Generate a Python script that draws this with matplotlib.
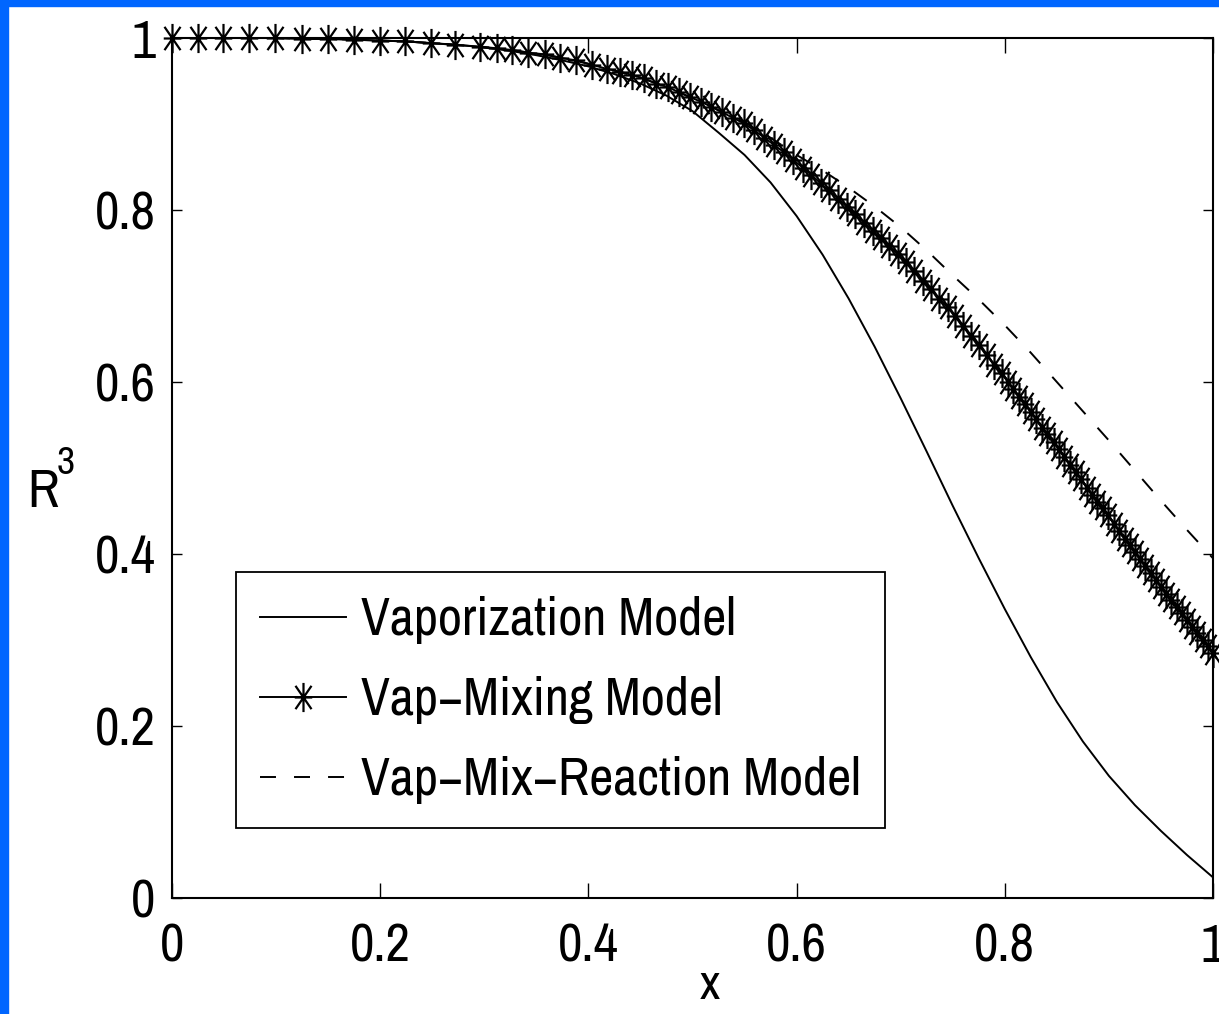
import matplotlib
matplotlib.use("Agg")
import matplotlib.pyplot as plt
from matplotlib import font_manager
from matplotlib.font_manager import FontProperties
from matplotlib.path import Path
from matplotlib.patches import Rectangle

# ---- data -------------------------------------------------------------
x_grid = [0.000, 0.025, 0.050, 0.075, 0.100, 0.125, 0.150, 0.175, 0.200,
          0.225, 0.250, 0.275, 0.300, 0.325, 0.350, 0.375, 0.400, 0.425,
          0.450, 0.475, 0.500, 0.525, 0.550, 0.575, 0.600, 0.625, 0.650,
          0.675, 0.700, 0.725, 0.750, 0.775, 0.800, 0.825, 0.850, 0.875,
          0.900, 0.925, 0.950, 0.975, 1.000]

vaporization = [1.000, 1.000, 1.000, 1.000, 1.000, 0.9995, 0.999, 0.998, 0.997,
                0.996, 0.994, 0.992, 0.989, 0.985, 0.980, 0.974, 0.967, 0.958,
                0.947, 0.933, 0.915, 0.890, 0.864, 0.832, 0.793, 0.748, 0.697,
                0.641, 0.581, 0.519, 0.456, 0.395, 0.336, 0.280, 0.228, 0.182,
                0.142, 0.108, 0.078, 0.050, 0.024]

vap_mix_reaction = [1.000, 1.000, 1.000, 1.000, 1.000, 0.999, 0.999, 0.998, 0.997,
                    0.996, 0.994, 0.992, 0.989, 0.986, 0.982, 0.977, 0.970, 0.962,
                    0.954, 0.943, 0.930, 0.916, 0.902, 0.884, 0.864, 0.846, 0.826,
                    0.804, 0.780, 0.753, 0.724, 0.696, 0.666, 0.634, 0.600, 0.566,
                    0.532, 0.497, 0.462, 0.428, 0.395]

# Vap-Mixing model: solver output points (each one carries a marker)
x_mix = [0.000, 0.025, 0.049, 0.074, 0.099, 0.125, 0.150, 0.175, 0.200, 0.224,
         0.249, 0.272,
         0.296, 0.312, 0.327, 0.342, 0.358, 0.373, 0.388, 0.403, 0.418, 0.430,
         0.442, 0.453, 0.465, 0.476, 0.487, 0.498, 0.508, 0.518, 0.528, 0.539,
         0.549, 0.559, 0.569, 0.578, 0.588, 0.597,
         0.606, 0.614, 0.623, 0.631, 0.640, 0.648, 0.656, 0.665, 0.673, 0.681,
         0.689, 0.697, 0.705, 0.713, 0.721, 0.729, 0.737, 0.745, 0.752, 0.760,
         0.768, 0.775, 0.783, 0.790, 0.797,
         0.803, 0.808, 0.814, 0.819, 0.825, 0.830, 0.836, 0.841, 0.847, 0.852,
         0.857, 0.863, 0.868, 0.873, 0.879, 0.884, 0.889, 0.894, 0.899, 0.905,
         0.910, 0.915, 0.920, 0.925, 0.930, 0.935, 0.940, 0.945, 0.950, 0.955,
         0.960, 0.965, 0.970, 0.975, 0.980, 0.985, 0.990, 0.995, 1.000]

y_mix = [1.000, 1.000, 1.000, 1.000, 1.000, 0.999, 0.999, 0.998, 0.997, 0.996,
         0.994, 0.992,
         0.990, 0.988, 0.986, 0.983, 0.981, 0.977, 0.974, 0.969, 0.964, 0.961,
         0.957, 0.953, 0.947, 0.943, 0.937, 0.931, 0.926, 0.920, 0.914, 0.907,
         0.901, 0.893, 0.884, 0.876, 0.867, 0.858,
         0.849, 0.841, 0.831, 0.823, 0.813, 0.804, 0.795, 0.785, 0.776, 0.767,
         0.758, 0.749, 0.739, 0.729, 0.718, 0.708, 0.697, 0.687, 0.677, 0.665,
         0.653, 0.643, 0.631, 0.620, 0.610,
         0.600, 0.592, 0.583, 0.575, 0.565, 0.557, 0.547, 0.539, 0.530, 0.522,
         0.513, 0.504, 0.495, 0.487, 0.477, 0.469, 0.461, 0.453, 0.445, 0.435,
         0.427, 0.418, 0.410, 0.402, 0.394, 0.386, 0.378, 0.370, 0.362, 0.354,
         0.346, 0.338, 0.331, 0.323, 0.315, 0.308, 0.300, 0.293, 0.285]

labels = ["Vaporization Model", "Vap\u2212Mixing Model", "Vap\u2212Mix\u2212Reaction Model"]
x_ticks = [0, 0.2, 0.4, 0.6, 0.8, 1]
x_ticklabels = ["0", "0.2", "0.4", "0.6", "0.8", "1"]
y_ticks = [0, 0.2, 0.4, 0.6, 0.8, 1]
y_ticklabels = ["0", "0.2", "0.4", "0.6", "0.8", "1"]


# ---- font: prefer a narrow / condensed sans face ---------------------
def pick_font():
    cands = []
    for f in font_manager.fontManager.ttflist:
        tag = (f.name + " " + f.fname).lower()
        if "mono" in tag or "serif" in tag and "sans" not in tag:
            continue
        if f.style != "normal" or f.weight not in (400, "normal", "regular", "book"):
            continue
        narrow = ("narrow" in tag or "condensed" in tag
                  or f.stretch in ("condensed", "semi-condensed", "extra-condensed"))
        if not narrow or "semi" in tag:
            continue
        rank = 0 if "narrow" in tag else (1 if "roboto" in tag else 2)
        cands.append((rank, f.fname))
    if cands:
        cands.sort()
        return FontProperties(fname=cands[0][1])
    return FontProperties(family="Liberation Sans")


base_fp = pick_font()
plt.rcParams["lines.scale_dashes"] = False

W, H = 1219, 1014
fig = plt.figure(figsize=(W / 100, H / 100), dpi=100)
fig.patch.set_facecolor("white")
renderer = fig.canvas.get_renderer()


def sized(fp, size):
    p = fp.copy()
    p.set_size(size)
    return p


def fit_size(text, width_px, cap_px, k):
    # font size (pt) balancing target width and target cap height
    w, h, d = renderer.get_text_width_height_descent(text, sized(base_fp, 100), ismath=False)
    _, hc, dc = renderer.get_text_width_height_descent("H", sized(base_fp, 100), ismath=False)
    s_w = 100 * width_px / w
    s_h = 100 * cap_px / (hc - dc)
    if s_w >= s_h:
        return s_h
    return s_w ** k * s_h ** (1 - k)


tick_size = fit_size("0.8", 52, 42, 0.45)
leg_size = fit_size("Vaporization Model", 353, 42, 0.7)
tick_fp = sized(base_fp, tick_size)
leg_fp = sized(base_fp, leg_size)

# blue frame strips along the top and left edges
blue = "#0066ff"
fig.add_artist(Rectangle((0, 1 - 6 / H), 1, 6 / H, transform=fig.transFigure,
                         color=blue, zorder=0))
fig.add_artist(Rectangle((0, 0), 8 / W, 1, transform=fig.transFigure,
                         color=blue, zorder=0))

ax = fig.add_axes([172 / W, (H - 898) / H, (1213 - 172) / W, (898 - 38) / H])

# asterisk marker: vertical + horizontal + two diagonals
ast = Path([(0, -1), (0, 1), (-0.6, 0), (0.6, 0),
            (-0.55, -0.8), (0.55, 0.8), (-0.55, 0.8), (0.55, -0.8)],
           [Path.MOVETO, Path.LINETO] * 4)

ax.plot(x_grid, vaporization, color="black", lw=1.4, label=labels[0])
ax.plot(x_mix, y_mix, color="black", lw=1.4, marker=ast, markersize=21,
        markerfacecolor="none", markeredgewidth=1.6, clip_on=False,
        label=labels[1])
ax.plot(x_grid, vap_mix_reaction, color="black", lw=1.4, dashes=(11.5, 13),
        label=labels[2])

ax.set_xlim(0, 1)
ax.set_ylim(0, 1)
ax.set_xticks(x_ticks)
ax.set_xticklabels(x_ticklabels, fontproperties=tick_fp)
ax.set_yticks(y_ticks)
ax.set_yticklabels(y_ticklabels, fontproperties=tick_fp)
ax.tick_params(axis="x", direction="in", length=10.5, width=1.0, top=True, pad=18)
ax.tick_params(axis="y", direction="in", length=7, width=1.0, right=True, pad=12)
for s in ax.spines.values():
    s.set_linewidth(1.5)

ax.set_xlabel("x", fontproperties=sized(base_fp, tick_size * 0.92), va="baseline")
ax.xaxis.set_label_coords((710 - 172) / 1041, -(999 - 898) / 860)
fig.text(27 / W, 1 - 507 / H, "R", fontproperties=tick_fp, ha="left", va="baseline")
fig.text(57 / W, 1 - 474 / H, "3", fontproperties=sized(base_fp, tick_size * 0.74),
         ha="left", va="baseline")

# legend geometry from the label font
fpx = leg_size * 100 / 72
_, th, _ = renderer.get_text_width_height_descent("Vap", leg_fp, ismath=False)
leg = ax.legend(loc="lower left", bbox_to_anchor=((236 - 172) / 1041, (898 - 828) / 860),
                borderaxespad=0, prop=leg_fp, handlelength=86 / fpx,
                handletextpad=15 / fpx, labelspacing=max(0.05, (78 - th) / fpx),
                borderpad=24 / fpx,
                fancybox=False, framealpha=1, edgecolor="black")
leg.get_frame().set_linewidth(1.3)

fig.savefig("out.png", dpi=100)
